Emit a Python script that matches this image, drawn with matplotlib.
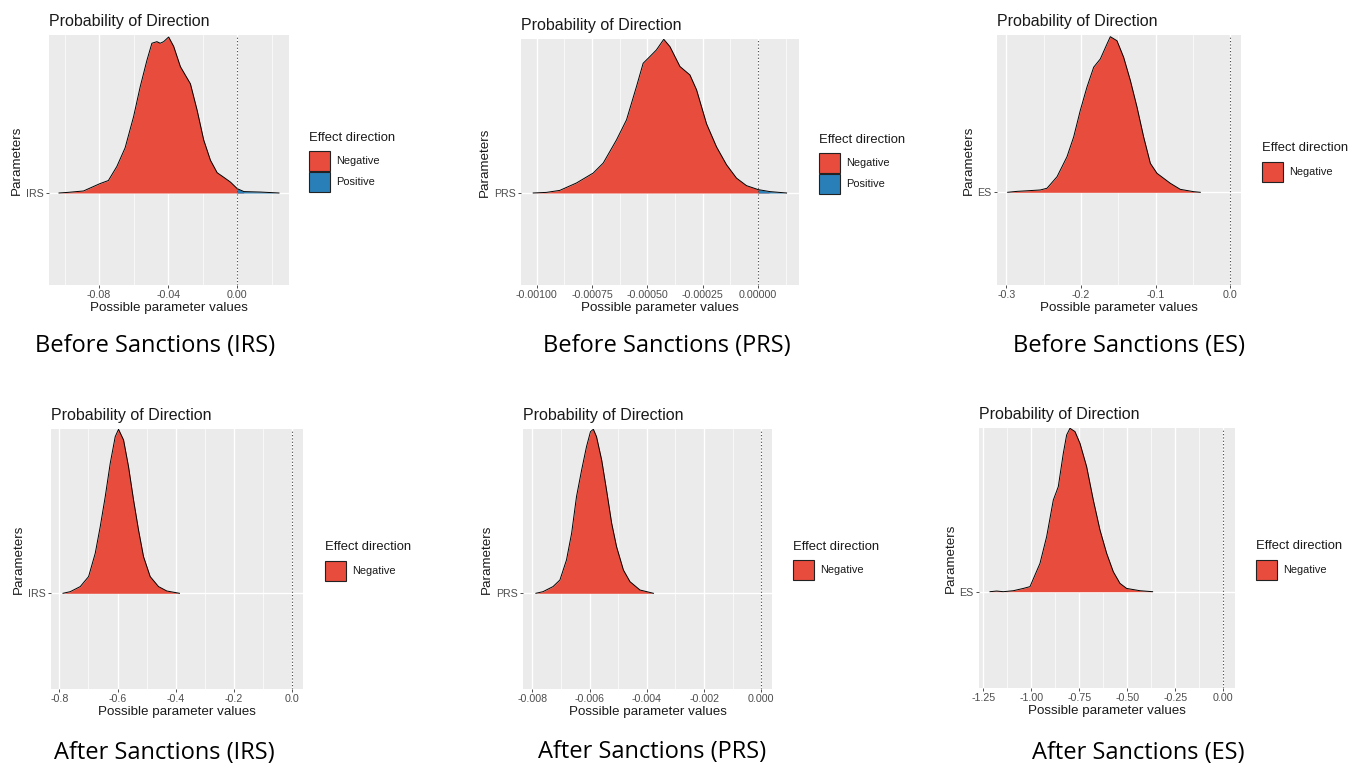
import matplotlib.pyplot as plt
from matplotlib.patches import Rectangle

W, H = 1363, 767

# ---------------- data ----------------
params = ["IRS", "PRS", "ES", "IRS", "PRS", "ES"]
captions = ["Before Sanctions (IRS)", "Before Sanctions (PRS)", "Before Sanctions (ES)",
            "After Sanctions (IRS)", "After Sanctions (PRS)", "After Sanctions (ES)"]
directions = [["Negative", "Positive"], ["Negative", "Positive"], ["Negative"],
              ["Negative"], ["Negative"], ["Negative"]]

# posterior densities (height scaled so the mode = 1)
irs_before_x = [-0.1032, -0.098, -0.089, -0.0795, -0.0746, -0.0697, -0.0649, -0.0600,
                -0.0562, -0.0523, -0.0494, -0.0465, -0.0446, -0.0426, -0.0397, -0.0368,
                -0.0329, -0.0271, -0.0232, -0.0194, -0.0155, -0.0116, -0.0077, -0.0039,
                0.0, 0.0039, 0.0136, 0.0242]
irs_before_d = [0.0, 0.004, 0.013, 0.06, 0.08, 0.17, 0.29, 0.49, 0.68, 0.85, 0.96, 0.97,
                0.96, 0.97, 1.0, 0.94, 0.81, 0.70, 0.53, 0.34, 0.21, 0.13, 0.10, 0.07,
                0.028, 0.009, 0.006, 0.0]

prs_before_x = [-0.001015, -0.000955, -0.000895, -0.000820, -0.000744, -0.000699,
                -0.000639, -0.000594, -0.000549, -0.000519, -0.000489, -0.000459,
                -0.000426, -0.000398, -0.000353, -0.000308, -0.000278, -0.000233,
                -0.000188, -0.000143, -0.000098, -0.000053, 0.0, 0.000053, 0.000128]
prs_before_d = [0.0, 0.004, 0.017, 0.065, 0.13, 0.195, 0.346, 0.476, 0.693, 0.844, 0.887,
                0.931, 1.0, 0.952, 0.823, 0.768, 0.671, 0.45, 0.30, 0.184, 0.097, 0.048,
                0.022, 0.009, 0.0]

es_before_x = [-0.2982, -0.2857, -0.2679, -0.2545, -0.2455, -0.2321, -0.2188, -0.2098,
               -0.2009, -0.1920, -0.1830, -0.1741, -0.1652, -0.1607, -0.1518, -0.1429,
               -0.1339, -0.1250, -0.1161, -0.1071, -0.0982, -0.0893, -0.0804, -0.0670,
               -0.0491, -0.0402]
es_before_d = [0.0, 0.006, 0.011, 0.015, 0.026, 0.10, 0.228, 0.356, 0.527, 0.676, 0.804,
               0.857, 0.953, 1.0, 0.974, 0.868, 0.719, 0.548, 0.356, 0.186, 0.122, 0.090,
               0.058, 0.019, 0.004, 0.0]

irs_after_x = [-0.7874, -0.7623, -0.728, -0.6994, -0.6766, -0.6594, -0.6423, -0.6251,
               -0.608, -0.5966, -0.5794, -0.5623, -0.5451, -0.528, -0.5109, -0.488,
               -0.4594, -0.4309, -0.3874]
irs_after_d = [0.0, 0.010, 0.041, 0.102, 0.244, 0.407, 0.589, 0.793, 0.955, 1.0, 0.935,
               0.772, 0.569, 0.386, 0.224, 0.102, 0.041, 0.014, 0.0]

prs_after_x = [-0.00788, -0.00763, -0.00728, -0.00704, -0.00681, -0.00663, -0.00646,
               -0.00628, -0.00611, -0.00597, -0.00587, -0.00576, -0.00558, -0.00541,
               -0.00523, -0.00506, -0.00482, -0.00459, -0.00424, -0.00377]
prs_after_d = [0.0, 0.010, 0.041, 0.081, 0.203, 0.366, 0.589, 0.752, 0.894, 0.986, 1.0,
               0.955, 0.813, 0.630, 0.427, 0.285, 0.142, 0.071, 0.020, 0.0]

es_after_x = [-1.2153, -1.1806, -1.1458, -1.0938, -1.0417, -1.0069, -0.9549, -0.9201,
              -0.8854, -0.8594, -0.8333, -0.8160, -0.7986, -0.7726, -0.7465, -0.7118,
              -0.6771, -0.6424, -0.6076, -0.5729, -0.5382, -0.5035, -0.4340, -0.3681]
es_after_d = [0.0, 0.004, 0.0, 0.006, 0.020, 0.031, 0.173, 0.337, 0.561, 0.643, 0.847,
              0.959, 1.0, 0.98, 0.908, 0.765, 0.561, 0.378, 0.235, 0.122, 0.051, 0.020,
              0.006, 0.0]

densities_x = [irs_before_x, prs_before_x, es_before_x, irs_after_x, prs_after_x, es_after_x]
densities_d = [irs_before_d, prs_before_d, es_before_d, irs_after_d, prs_after_d, es_after_d]

major_ticks = [[-0.08, -0.04, 0.0],
               [-0.001, -0.00075, -0.0005, -0.00025, 0.0],
               [-0.3, -0.2, -0.1, 0.0],
               [-0.8, -0.6, -0.4, -0.2, 0.0],
               [-0.008, -0.006, -0.004, -0.002, 0.0],
               [-1.25, -1.0, -0.75, -0.5, -0.25, 0.0]]
tick_labels = [["-0.08", "-0.04", "0.00"],
               ["-0.00100", "-0.00075", "-0.00050", "-0.00025", "0.00000"],
               ["-0.3", "-0.2", "-0.1", "0.0"],
               ["-0.8", "-0.6", "-0.4", "-0.2", "0.0"],
               ["-0.008", "-0.006", "-0.004", "-0.002", "0.000"],
               ["-1.25", "-1.00", "-0.75", "-0.50", "-0.25", "0.00"]]
x_limits = [(-0.109, 0.030), (-0.00107, 0.000184), (-0.3125, 0.0143),
            (-0.8285, 0.0367), (-0.00833, 0.000375), (-1.2725, 0.061)]

# ---------------- layout (pixels in the 1363x767 image) ----------------
# left, top, right, bottom, baseline, peak
panel_px = [(49, 35, 289, 285, 193, 37),
            (521, 39, 799, 285, 193, 39.3),
            (997, 35, 1241, 285, 192.3, 36.7),
            (51, 429, 303, 689, 593.3, 429.3),
            (523, 429, 772, 689, 593.3, 429.3),
            (979, 428, 1235, 688, 591.7, 428.3)]
# legend: title left x, title centre y, first key top y
legend_px = [(309, 138, 151), (819, 140, 153), (1262, 148, 162),
             (325, 547, 561), (793, 547, 560), (1256, 546, 560)]
caption_px = [(155, 346), (667, 346), (1129, 346),
              (164, 753), (652, 752), (1138, 753)]

FILL = {"Negative": "#E74C3C", "Positive": "#2980B9"}
PANEL_BG = "#EBEBEB"
SANS = ["Liberation Sans", "DejaVu Sans"]

plt.rcParams["font.family"] = SANS

fig = plt.figure(figsize=(W / 100, H / 100), dpi=100)
fig.patch.set_facecolor("white")


def fx(x):
    return x / W


def fy(y):
    return 1 - y / H


for i in range(6):
    l, t, r, b, base, peak = panel_px[i]
    ax = fig.add_axes([fx(l), fy(b), (r - l) / W, (b - t) / H])
    ax.set_facecolor(PANEL_BG)
    for s in ax.spines.values():
        s.set_visible(False)

    xs = densities_x[i]
    ds = densities_d[i]
    neg = [x <= 0 for x in xs]
    pos = [x >= 0 for x in xs]
    ax.fill_between(xs, 0, ds, where=neg, interpolate=True,
                    color=FILL["Negative"], lw=0, zorder=2)
    if "Positive" in directions[i]:
        ax.fill_between(xs, 0, ds, where=pos, interpolate=True,
                        color=FILL["Positive"], lw=0, zorder=2)
    ax.plot(xs, ds, color="black", lw=0.7, zorder=3)
    ax.axvline(0, color="#444444", ls=(0, (1, 2)), lw=0.8, zorder=4)

    mt = major_ticks[i]
    step = mt[1] - mt[0]
    minors = [m - step / 2 for m in mt] + [mt[-1] + step / 2]
    ax.set_xticks(mt)
    ax.set_xticklabels(tick_labels[i])
    ax.set_xticks(minors, minor=True)
    ax.set_yticks([0])
    ax.set_yticklabels([params[i]])

    # limits after the ticks, so the ticks do not widen the view
    unit = base - peak
    ax.set_ylim(-(b - base) / unit, (base - t) / unit)
    ax.set_xlim(*x_limits[i])

    ax.grid(which="major", color="white", lw=1.0, zorder=0)
    ax.grid(which="minor", axis="x", color="white", lw=0.5, zorder=0)
    ax.set_axisbelow(True)
    ax.tick_params(which="major", length=2.2, width=0.6, color="#333333",
                   labelcolor="#4D4D4D", labelsize=7.7, pad=1.5)
    ax.tick_params(which="minor", length=0)

    ax.set_xlabel("Possible parameter values", fontsize=9.6, color="#1A1A1A", labelpad=1)
    ax.set_ylabel("Parameters", fontsize=9.6, color="#1A1A1A", labelpad=2)
    ax.set_title("Probability of Direction", loc="left", fontsize=11.5,
                 color="#1A1A1A", pad=6.5)

    # legend
    lx, ly, ky = legend_px[i]
    fig.text(fx(lx), fy(ly), "Effect direction", fontsize=9.4, color="#1A1A1A",
             ha="left", va="center")
    kw, kh = 21, 20
    for j, name in enumerate(directions[i]):
        top = ky + j * (kh + 1)
        fig.add_artist(Rectangle((fx(lx), fy(top + kh)), kw / W, kh / H,
                                 transform=fig.transFigure, facecolor=FILL[name],
                                 edgecolor="#222222", lw=0.8))
        fig.text(fx(lx + kw + 6), fy(top + kh / 2), name, fontsize=7.9,
                 color="#1A1A1A", ha="left", va="center")

    cx, cy = caption_px[i]
    fig.text(fx(cx), fy(cy), captions[i], fontsize=17, ha="center", va="center",
             family=["Open Sans", "DejaVu Sans"], color="black")

fig.savefig("out.png", dpi=100, facecolor="white")
